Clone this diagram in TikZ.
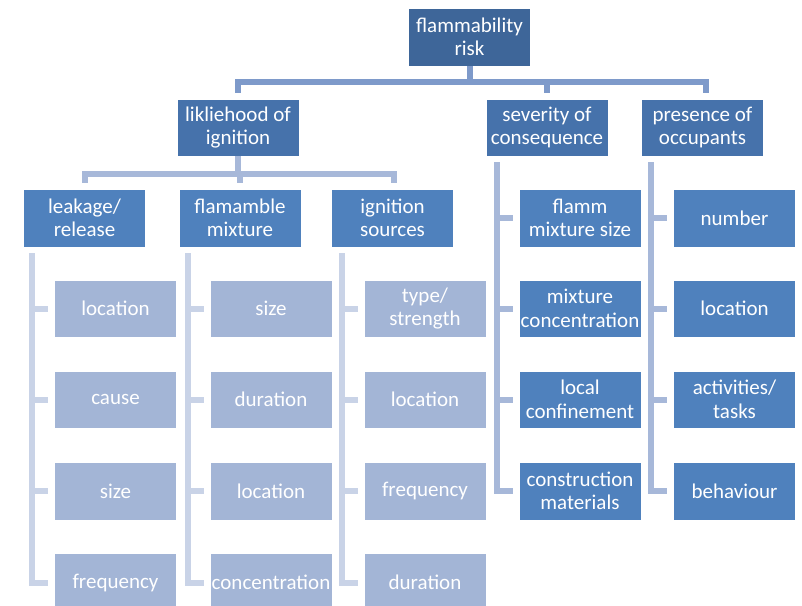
\documentclass[tikz,border=0pt]{standalone}
\usepackage{fontspec}
\setmainfont{Carlito}
\usetikzlibrary{calc}
\definecolor{ctop}{HTML}{3E6699}
\definecolor{clev}{HTML}{4672AB}
\definecolor{cmid}{HTML}{4F81BD}
\definecolor{cleaf}{HTML}{A3B5D6}
\definecolor{lineA}{HTML}{7E9ACA}
\definecolor{lineB}{HTML}{A7B8D9}
\definecolor{lineC}{HTML}{C9D3E7}
\begin{document}
\begin{tikzpicture}[x=1pt,y=-1pt,
  box/.style={rectangle, minimum width=122pt, minimum height=57pt, inner xsep=0pt, inner ysep=2pt,
    align=center, text=white, draw=white, line width=0.6pt,
    font=\fontsize{21}{23.5}\selectfont},
  topbox/.style={box, fill=ctop},
  levbox/.style={box, fill=clev},
  midbox/.style={box, fill=cmid},
  leafbox/.style={box, fill=cleaf},
  cA/.style={draw=lineA, line width=6pt, line join=miter},
  cB/.style={draw=lineB, line width=6pt, line join=miter},
  cC/.style={draw=lineC, line width=6pt, line join=miter}]
\useasboundingbox (0,0) rectangle (802,605);
\clip (0,0) rectangle (802,605);

% level 1
\node[topbox, minimum height=58pt] (top) at (469.5,37) {flammability\\risk};
% level 2
\node[levbox] (lik) at (238,127.5) {likliehood of\\ignition};
\node[levbox] (sev) at (547,127.5) {severity of\\consequence};
\node[levbox] (pres) at (702.5,127.5) {presence of\\occupants};
% level 3 under likelihood
\node[midbox, minimum height=58pt] (leak) at (84.5,218) {leakage/\\release};
\node[midbox, minimum height=58pt] (flam) at (240,218) {flamamble\\mixture};
\node[midbox, minimum height=58pt] (ign) at (392.5,218) {ignition\\sources};
% leaves
\node[leafbox] (l11) at (115.5,308.5) {location};
\node[leafbox] (l12) at (115.5,399.5) {cause};
\node[leafbox, minimum height=58pt] (l13) at (115.5,491) {size};
\node[leafbox, minimum height=58pt] (l14) at (115.5,582.5) {frequency};
\node[leafbox] (l21) at (271,308.5) {size};
\node[leafbox] (l22) at (271,399.5) {duration};
\node[leafbox, minimum height=58pt] (l23) at (271,491) {location};
\node[leafbox, minimum height=58pt] (l24) at (271,582.5) {concentration};
\node[leafbox] (l31) at (425,308.5) {type/\\strength};
\node[leafbox] (l32) at (425,399.5) {location};
\node[leafbox, minimum height=58pt] (l33) at (425,491) {frequency};
\node[leafbox, minimum height=58pt] (l34) at (425,582.5) {duration};
% severity children
\node[midbox, minimum height=58pt] (s1) at (580,218) {flamm\\mixture size};
\node[midbox] (s2) at (580,308.5) {mixture\\concentration};
\node[midbox] (s3) at (580,399.5) {local\\confinement};
\node[midbox, minimum height=58pt] (s4) at (580,491) {construction\\materials};
% presence children
\node[midbox, minimum height=58pt] (p1) at (734.5,218) {number};
\node[midbox] (p2) at (734.5,308.5) {location};
\node[midbox] (p3) at (734.5,399.5) {activities/\\tasks};
\node[midbox, minimum height=58pt] (p4) at (734.5,491) {behaviour};

% connectors level 1 -> 2
\coordinate (b1) at ($(top.south)+(0,16)$);
\coordinate (b1r) at ($(pres.north)+(3,0)$);
\draw[cA] (top.south) -- (b1);
\draw[cA] ($(lik.north)+(0,-6)$) -- (lik.north |- b1) -- (b1r |- b1) -- ($(b1r)+(0,-6)$);
\draw[cA] (sev.north |- b1) -- ($(sev.north)+(0,-6)$);

% connectors likelihood -> level 3
\coordinate (b2) at ($(lik.south)+(0,18)$);
\coordinate (b2r) at ($(ign.north)+(1,0)$);
\draw[cB] (lik.south) -- (b2);
\draw[cB] ($(leak.north)+(0,-6)$) -- (leak.north |- b2) -- (b2r |- b2) -- ($(b2r)+(0,-6)$);
\draw[cB] (flam.north |- b2) -- ($(flam.north)+(0,-6)$);

% severity / presence lists
\foreach \pn/\na/\nb/\nc/\nd in {sev/s1/s2/s3/s4, pres/p1/p2/p3/p4}{
  \coordinate (tA) at ($(\pn.south)+(0,6)$);
  \coordinate (tB) at ($(\na.west)+(-22,0)$);
  \draw[cB] (tA -| tB) |- ($(\nd.west)+(-6,0)$);
  \foreach \nk in {\na,\nb,\nc}{
    \draw[cB] ($(\nk.west)+(-22,0)$) -- ($(\nk.west)+(-6,0)$);
  }
}

% leaf lists
\foreach \pn/\na/\nb/\nc/\nd in {leak/l11/l12/l13/l14, flam/l21/l22/l23/l24, ign/l31/l32/l33/l34}{
  \coordinate (tA) at ($(\pn.south)+(0,6)$);
  \coordinate (tB) at ($(\na.west)+(-22,0)$);
  \draw[cC] (tA -| tB) |- ($(\nd.west)+(-6,0)$);
  \foreach \nk in {\na,\nb,\nc}{
    \draw[cC] ($(\nk.west)+(-22,0)$) -- ($(\nk.west)+(-6,0)$);
  }
}
\end{tikzpicture}
\end{document}
